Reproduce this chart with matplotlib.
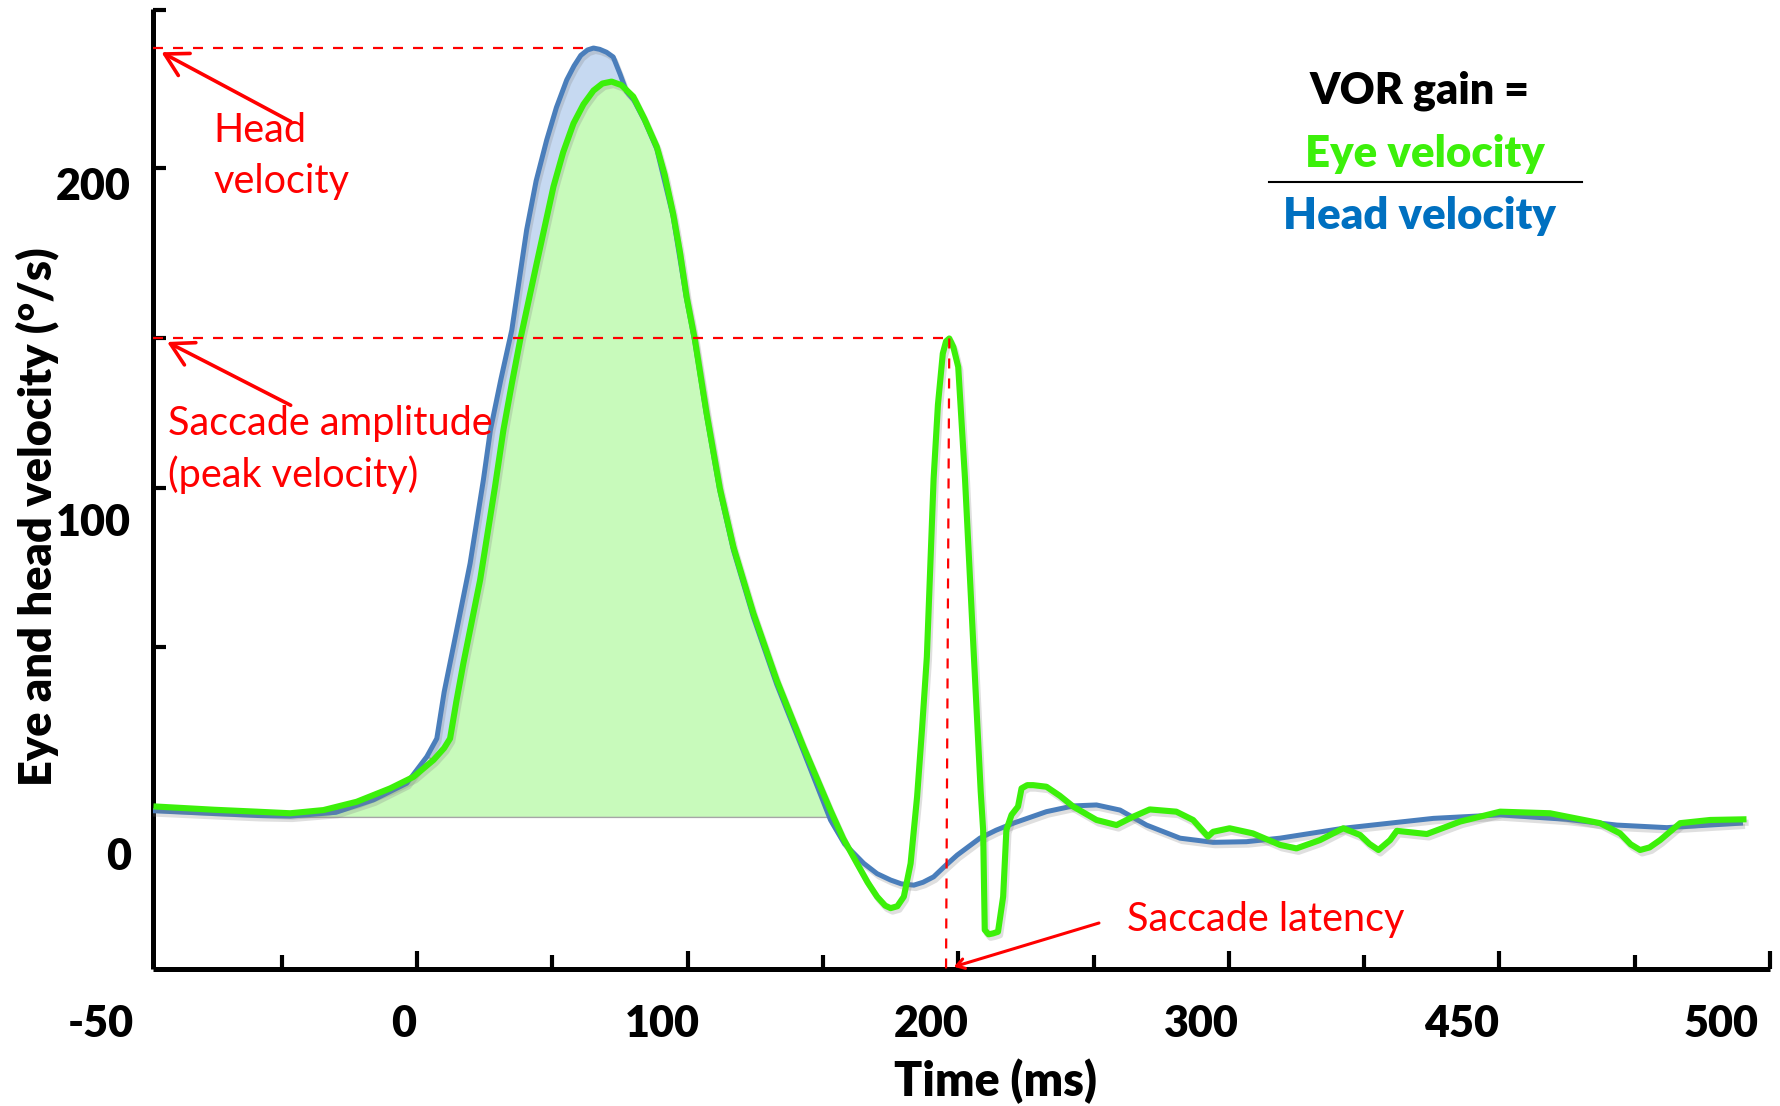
import matplotlib
matplotlib.use("Agg")
import matplotlib.pyplot as plt
import matplotlib.patheffects as pe
import numpy as np

plt.rcParams['font.family'] = ['Lato', 'DejaVu Sans']

# head velocity trace: time (ms) and velocity (deg/s)
head_t = [-97.6, -75, -59, -46.9, -30, -16.1, -3.8, 3.6, 7.3, 10, 13.4, 19.6, 24.5,
          27.1, 31, 35.0, 40.5, 44, 47.9, 51.5, 55.3, 58, 60.5, 63, 65.2, 67.5, 70,
          72.5, 75, 77.4, 80, 84, 88.6, 94.6, 99.6, 102.7, 107.0, 111.9, 116.9, 124.3,
          132.9, 142.8, 152.8, 158, 165.1, 170, 175.0, 179, 183.6, 187, 190.9, 195,
          199.6, 208.0, 214, 220.4, 232.6, 242.5, 251.1, 259.8, 269.6, 282.0, 294.2,
          306.5, 318.9, 342.3, 375.6, 400.3, 424.9, 443.4, 461.9, 489.1]
head_v = [-1.1, -2.0, -2.6, -2.8, -1.6, 2.3, 7.5, 15.8, 21.5, 36, 50.2, 76.3, 102.4,
          118.0, 134, 149.3, 180.7, 196, 208.8, 219, 227.6, 232, 235.3, 237, 237.6,
          237.2, 236.3, 234.8, 229.5, 224, 221.5, 215, 206, 185, 159, 145.5, 122.5,
          99, 80.5, 59.5, 38.5, 17.5, -4.0, -11.5, -17.6, -20.8, -22.8, -24, -24.4,
          -23.5, -21.8, -18.5, -15.0, -9.7, -7.2, -5.0, -1.4, 0.4, 0.7, -0.9, -5.6,
          -9.7, -11.0, -10.8, -9.7, -6.6, -3.5, -2.4, -3.8, -5.6, -6.4, -5.0]

# eye velocity trace, with the catch-up saccade near 200 ms
eye_t = [-96.3, -75, -59.3, -46.9, -34.6, -22.3, -9.9, -1.3, 6.1, 10, 12.2, 14.5,
         17.1, 23.3, 28.8, 31.9, 35, 38.1, 44.2, 50.4, 54, 57.8, 61.5, 65.2, 68.5,
         71.9, 75.5, 79.9, 84, 88.6, 91.5, 94.6, 97.2, 99.6, 102.7, 107.0, 111.9,
         116.9, 124.3, 132.9, 142.8, 152.8, 157.5, 162.6, 166.5, 170.0, 173, 175.0,
         177.5, 179.9, 182.4, 184.8, 186.6, 188.4, 190.9, 192.5, 194.3, 195.5, 196.7,
         198.2, 200.0, 202.5, 205.8, 208.3, 209.2, 209.8, 211.2, 212.9, 214.7, 216.6,
         217.8, 219.7, 222.1, 223.4, 225.5, 227.7, 232.6, 237.5, 242.5, 251.1, 258.5,
         264.6, 270.8, 280.6, 286.8, 292.3, 294.2, 300.3, 308.9, 318.9, 325.0, 333.7,
         342.3, 348.5, 352, 355.3, 359.6, 362.1, 373.2, 385.5, 400.3, 418.7, 437.2,
         444.6, 448.5, 452.0, 455.5, 459.4, 466.8, 477.9, 490.2]
eye_v = [0.2, -0.8, -1.4, -1.9, -0.9, 1.7, 5.9, 9.5, 14.8, 18.5, 21.5, 33,
         45.0, 71.1, 100.3, 118.0, 132.5, 146.2, 170.2, 194.2, 205, 214.0, 220, 224.3,
         226.5, 227.1, 226, 222.4, 215.5, 206.7, 198, 185.9, 173.5, 159.8, 146.2,
         123.3, 99.8, 81.5, 60.7, 39.8, 18.9, -1.0, -9.8, -17.6, -23.5, -28.0, -30.8,
         -31.6, -31, -28.0, -17.6, 3.3, 24.2, 47.0, 102.8, 126, 142.0, 145.8, 146.7,
         144, 137.8, 102.8, 47.0, 5.0, -7.1, -38.4, -39.8, -39.5, -39.0, -28.0, -7.1,
         -2.4, 0.2, 5.9, 6.9, 6.9, 6.4, 3.6, 0.2, -4.0, -5.6, -3.0, -0.7, -1.4, -4.0,
         -9.2, -7.7, -6.6, -8.2, -11.8, -12.9, -10.3, -6.6, -8.7, -11.5, -13.4, -10.3,
         -7.4, -8.4, -4.5, -1.4, -1.9, -5.0, -8.2, -11.6, -13.4, -12.6, -10.3, -5.0,
         -4.0, -3.8]

head_peak = 237.6
saccade_peak = 146.7
saccade_time = 196.7
fill_base = -3.2

x_labels = ['-50', '0', '100', '200', '300', '450', '500']
x_label_pos = [-117, -5.1, 90.6, 190, 290, 386.1, 481.8]
y_labels = ['200', '100', '0']
y_label_pos = [194, 89.1, -15.7]

head_t, head_v = np.array(head_t), np.array(head_v)
eye_t, eye_v = np.array(eye_t), np.array(eye_v)

RED = '#FF0000'
GREEN = '#3CF00A'
BLUE = '#4A7EBB'
BOLD = 800

fig = plt.figure(figsize=(17.81, 11.06), dpi=100)
ax = fig.add_axes([0.0859, 0.1240, 0.9079, 0.8678])
ax.set_xlim(-97.6, 500)
ax.set_ylim(-50.6, 249.8)

shadow = [pe.SimpleLineShadow(offset=(1.5, -2.5), shadow_color='0.5', alpha=0.25),
          pe.Normal()]

# shaded areas: head-only part of the hump and the area under the eye curve
hb = (head_t >= 3.6) & (head_t <= 77.4)
eb = (eye_t >= 6.1) & (eye_t <= 77)
ax.fill(np.r_[head_t[hb], eye_t[eb][::-1]], np.r_[head_v[hb], eye_v[eb][::-1]],
        facecolor='#C6D9F1', edgecolor='#A6A6A6', lw=1, zorder=1)
gm = (eye_t >= -46.9) & (eye_t <= 152.8)
gx = eye_t[gm]
ax.fill(np.r_[gx, gx[-1], gx[0]], np.r_[eye_v[gm], fill_base, fill_base],
        facecolor='#C8FABB', edgecolor='#A6A6A6', lw=1, zorder=1)

ax.plot(head_t, head_v, color=BLUE, lw=3.6, zorder=3, path_effects=shadow,
        solid_joinstyle='round')
ax.plot(eye_t, eye_v, color=GREEN, lw=4.4, zorder=4, path_effects=shadow,
        solid_joinstyle='round')

# guide lines for peak head velocity and saccade peak / latency
dash = dict(color=RED, lw=1.6, ls=(0, (4.5, 4.5)), zorder=5)
ax.plot([-97.6, 65.2], [head_peak, head_peak], **dash)
ax.plot([-97.6, saccade_time], [saccade_peak, saccade_peak], **dash)
ax.plot([saccade_time, 195.5], [saccade_peak, -50.6], clip_on=False, **dash)

arrow = dict(arrowstyle='->,head_length=0.8,head_width=0.45', color=RED, lw=2.6,
             mutation_scale=20)
ax.annotate('', xy=(-95.4, 236.7), xytext=(-45.8, 214.2), arrowprops=arrow, zorder=6)
ax.annotate('', xy=(-93.3, 146.0), xytext=(-45.8, 125.4), arrowprops=arrow, zorder=6)
ax.annotate('', xy=(197.4, -50.2), xytext=(253, -36),
            arrowprops=dict(arrowstyle='->,head_length=0.4,head_width=0.25',
                            color=RED, lw=2.2, mutation_scale=14),
            annotation_clip=False, zorder=6)

red_txt = dict(color=RED, fontsize=28.5, va='center', ha='left')
ax.text(-75.3, 211.8, 'Head', **red_txt)
ax.text(-75.3, 195.8, 'velocity', **red_txt)
ax.text(-92, 120.0, 'Saccade amplitude', **red_txt)
ax.text(-92, 104.0, '(peak velocity)', **red_txt)
ax.text(262.3, -35.3, 'Saccade latency', **red_txt)

# axes styling
for s in ['top', 'right']:
    ax.spines[s].set_visible(False)
for s in ['left', 'bottom']:
    ax.spines[s].set_linewidth(3.6)
    ax.spines[s].set_capstyle('butt')

ax.set_xticks([0, 100, 200, 300, 400, 500])
ax.set_xticks([-50, 50, 150, 250, 350, 450], minor=True)
ax.set_yticks([50, 100, 147, 200, 249.5])
ax.tick_params(axis='x', which='major', direction='in', length=13, width=3,
               labelbottom=False)
ax.tick_params(axis='x', which='minor', direction='in', length=10, width=3)
ax.tick_params(axis='y', direction='in', length=9, width=3, labelleft=False)

tick_txt = dict(fontsize=31, fontweight=BOLD, color='black', va='center')
for lab, pos in zip(x_labels, x_label_pos):
    ax.text(pos, -68, lab, ha='center', clip_on=False, **tick_txt)
for lab, pos in zip(y_labels, y_label_pos):
    ax.text(-105.8, pos, lab, ha='right', clip_on=False, **tick_txt)

fig.text(0.021, 0.533, 'Eye and head velocity (°/s)', rotation=90, ha='center',
         va='center', fontsize=32.5, fontweight=BOLD)
fig.text(0.559, 0.0224, 'Time (ms)', ha='center', va='center', fontsize=33.5,
         fontweight=BOLD)

# VOR gain formula
fig.text(0.797, 0.918, 'VOR gain =', ha='center', va='center', fontsize=31,
         fontweight=BOLD, color='black')
fig.text(0.800, 0.861, 'Eye velocity', ha='center', va='center', fontsize=31.5,
         fontweight=BOLD, color=GREEN)
fig.add_artist(plt.Line2D([0.7127, 0.8884], [0.8357, 0.8357], color='black', lw=1.5))
fig.text(0.797, 0.805, 'Head velocity', ha='center', va='center', fontsize=31.5,
         fontweight=BOLD, color='#0070C0')

fig.savefig('out.png', dpi=100)
